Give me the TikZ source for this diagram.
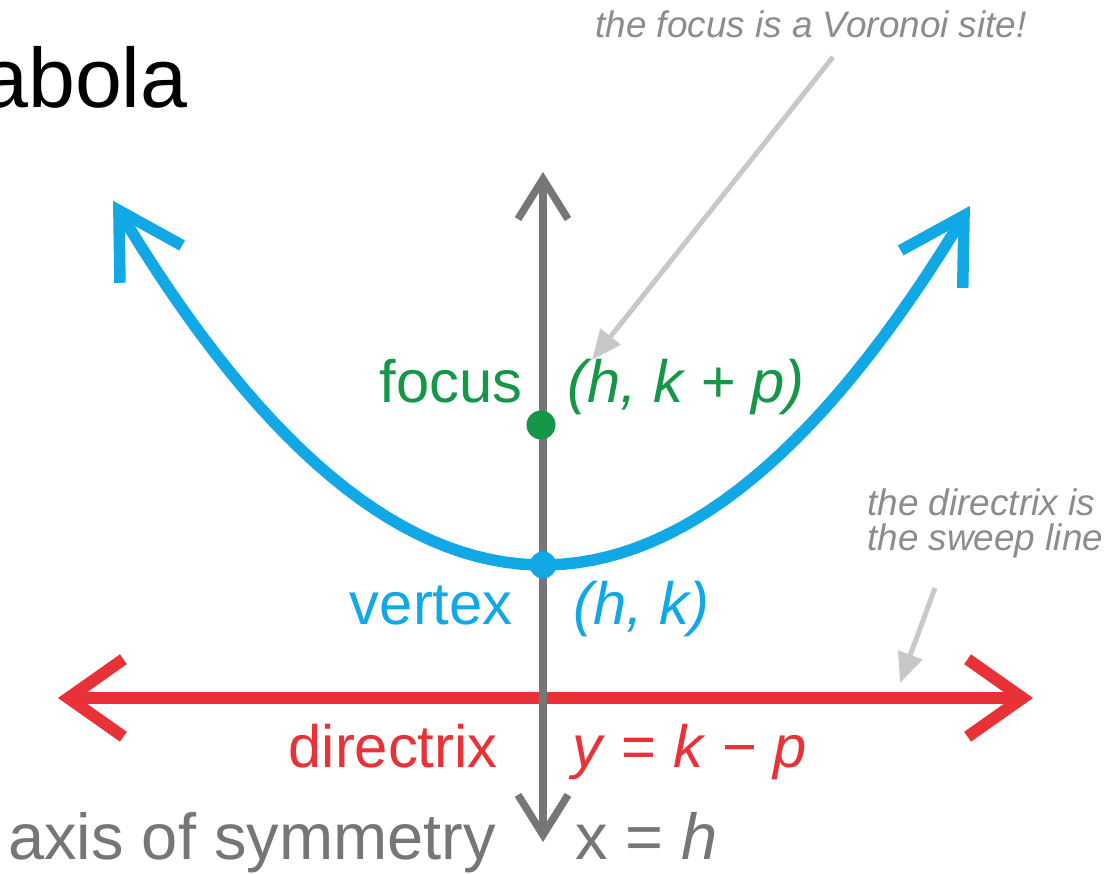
\documentclass[tikz,border=0pt]{standalone}
\usepackage{fontspec}
\setmainfont{Liberation Sans}
\usetikzlibrary{arrows.meta, positioning}
\definecolor{parablue}{RGB}{18,168,230}
\definecolor{focusgreen}{RGB}{22,150,72}
\definecolor{dirred}{RGB}{232,50,56}
\definecolor{axisgray}{RGB}{118,118,118}
\definecolor{notegray}{RGB}{140,140,140}
\definecolor{pointgray}{RGB}{200,200,200}

\begin{document}
\begin{tikzpicture}[x=0.02cm, y=-0.02cm,
 lbl/.style={font=\fontsize{34}{40}\selectfont, inner sep=0pt},
 note/.style={font=\fontsize{21}{20.4}\selectfont\itshape, text=notegray, inner sep=0pt},
 pointer/.style={draw=pointgray, line width=0.1cm, -{Triangle[length=0.6cm, width=0.5cm]}},
 dot/.style={circle, inner sep=0pt, minimum size=0.58cm}]
 \useasboundingbox[fill=white] (0,0) rectangle (1107,874);
 \clip (0,0) rectangle (1107,874);
 \node[font=\fontsize{48}{54}\selectfont, anchor=base east, inner sep=0pt] (title) at (188,108) {abola};
 % directrix
 \coordinate (dirleft) at (58,698);
 \coordinate (dirright) at (1033,698);
 \draw[dirred, line width=0.24cm, {Straight Barb[length=1.1cm, width=1.55cm]}-{Straight Barb[length=1.1cm, width=1.55cm]}] (dirleft) -- (dirright);
 % axis of symmetry
 \coordinate (axistop) at (543,172);
 \coordinate (axisbot) at (543,842);
 \draw[axisgray, line width=0.15cm, {Straight Barb[length=0.8cm, width=1cm]}-{Straight Barb[length=0.8cm, width=1cm]}] (axisbot) -- (axistop);
 % parabola
 \draw[parablue, line width=0.23cm, {Straight Barb[length=1.25cm, width=1.45cm]}-{Straight Barb[length=1.25cm, width=1.45cm]}] plot[domain=-4.3:4.27, samples=60] ({543+100*\x}, {565-19.7*\x*\x});
 \node[dot, fill=focusgreen] (focus) at (541,425) {};
 \node[dot, fill=parablue, minimum size=0.54cm] (vertex) at (543,565) {};
 % labels
 \node[lbl, text=focusgreen, anchor=base east] (focuslbl) at (523,403) {focus};
 \node[lbl, text=focusgreen, anchor=base west] (focuspt) at (567,403) {\textit{(h, k + p)}};
 \node[lbl, text=parablue, anchor=base east] (vertexlbl) at (513,625) {vertex};
 \node[lbl, text=parablue, anchor=base west] (vertexpt) at (573,625) {\textit{(h, k)}};
 \node[lbl, text=dirred, anchor=base east] (dirlbl) at (498,768) {directrix};
 \node[lbl, text=dirred, anchor=base west] (direq) at (572,768) {\textit{y} = \textit{k} − \textit{p}};
 \node[lbl, font=\fontsize{37}{44}\selectfont, text=axisgray, anchor=base west] (axislbl) at (8,860) {axis of symmetry};
 \node[lbl, font=\fontsize{37}{44}\selectfont, text=axisgray, anchor=base west] (axiseq) at (575,860) {x = \textit{h}};
 % notes
 \node[note, anchor=base west] (sitenote) at (595,38) {the focus is a Voronoi site!};
 \node[note, anchor=base west, align=left] (sweepnote) at (867,551) {the directrix is\\the sweep line};
 \coordinate (sitefrom) at (833,57);
 \coordinate (sitetip) at (592,360);
 \coordinate (sweepfrom) at (935,588);
 \coordinate (sweeptip) at (900,683);
 \draw[pointer] (sitefrom) -- (sitetip);
 \draw[pointer] (sweepfrom) -- (sweeptip);
\end{tikzpicture}
\end{document}
